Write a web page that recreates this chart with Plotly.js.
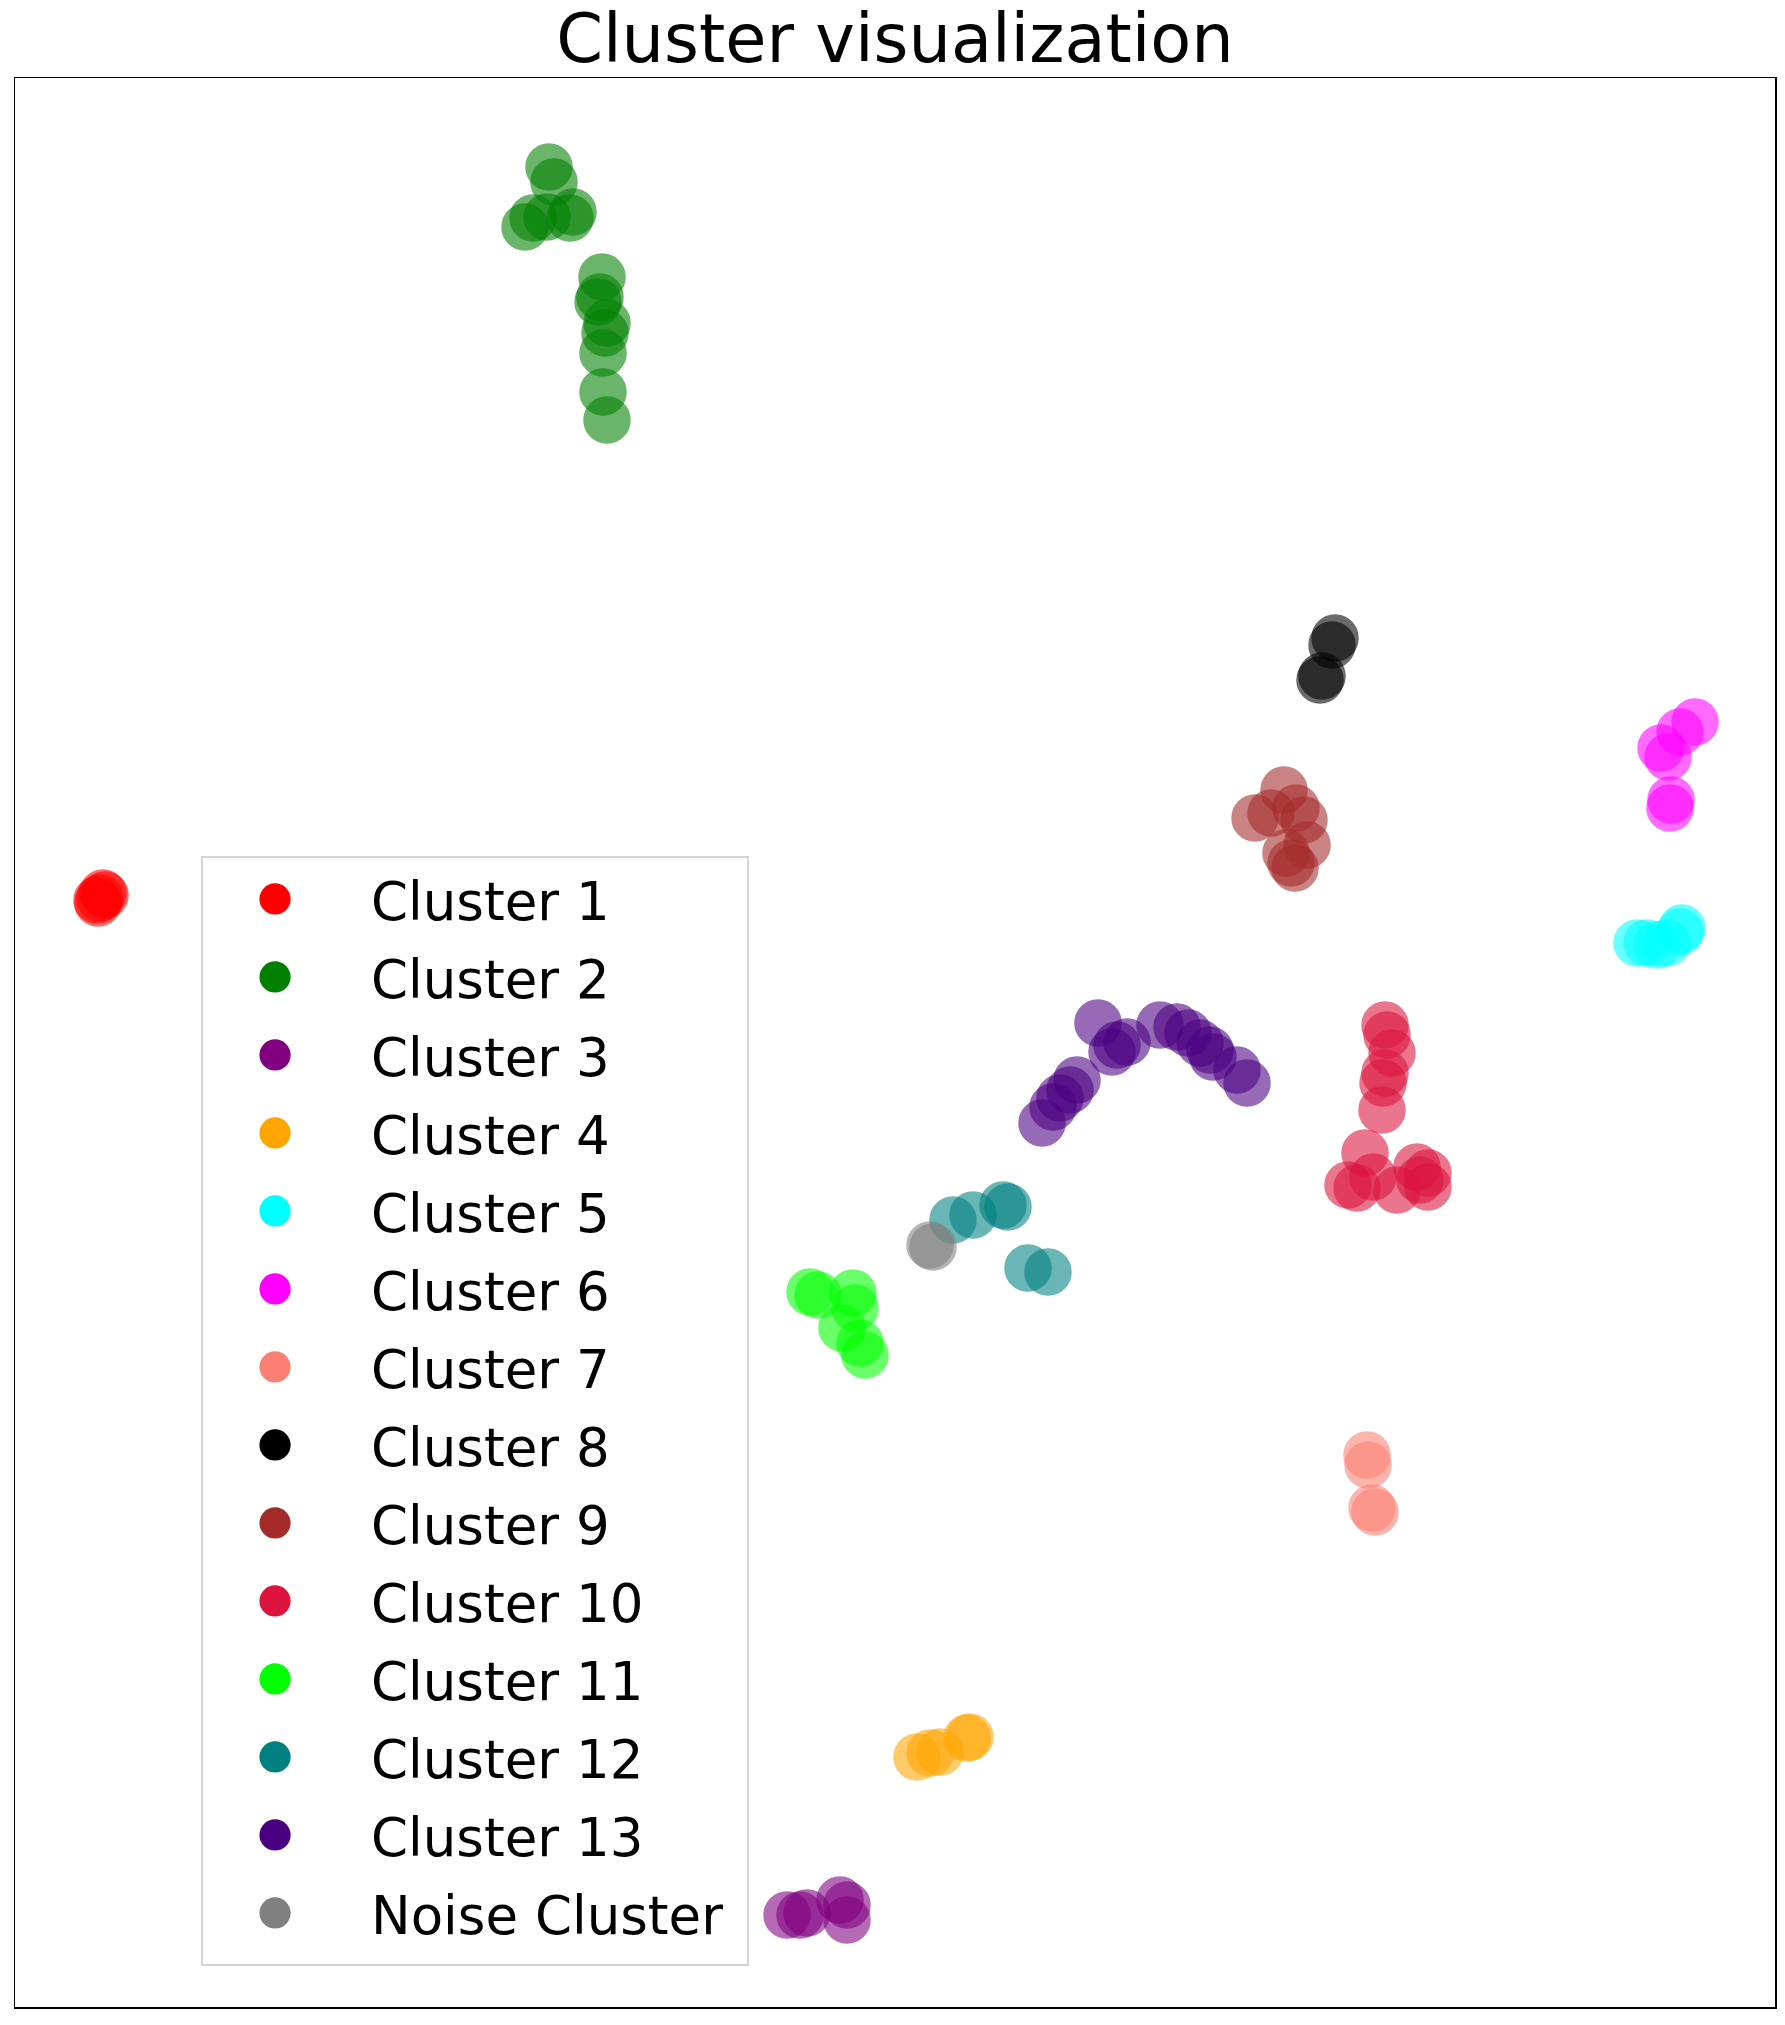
<!DOCTYPE html>
<html>
<head>
<meta charset="utf-8">
<script src="https://cdn.plot.ly/plotly-3.0.1.min.js"></script>
<style>
  html, body { margin: 0; padding: 0; background: #fff; }
</style>
</head>
<body>
<div id="chart" style="width:1785px;height:2025px;"></div>
<script>
// cluster points (embedding coordinates)
const c1x = [0.82, 0.85, 0.88, 0.83, 0.90];
const c1y = [11.07, 11.09, 11.14, 11.04, 11.12];

const c2x = [5.34, 5.39, 5.18, 5.10, 5.32, 5.58, 5.55, 5.87, 5.85, 5.83, 5.92, 5.90, 5.88, 5.88, 5.92];
const c2y = [18.40, 18.25, 17.89, 17.80, 17.90, 17.95, 17.89, 17.30, 17.10, 17.05, 16.84, 16.74, 16.54, 16.15, 15.87];

const c3x = [7.72, 7.85, 7.92, 8.25, 8.32, 8.32];
const c3y = [0.92, 0.92, 0.94, 1.07, 1.02, 0.87];

const c4x = [9.02, 9.15, 9.25, 9.52, 9.55];
const c4y = [2.50, 2.54, 2.55, 2.69, 2.70];

const c5x = [16.22, 16.32, 16.42, 16.52, 16.65, 16.67];
const c5y = [10.64, 10.64, 10.62, 10.64, 10.75, 10.79];

const c6x = [16.80, 16.65, 16.46, 16.53, 16.56, 16.55];
const c6y = [12.85, 12.75, 12.59, 12.50, 12.07, 11.99];

const c7x = [13.52, 13.53, 13.57, 13.60];
const c7y = [5.52, 5.42, 4.99, 4.95];

const c8x = [13.20, 13.17, 13.07, 13.05];
const c8y = [13.69, 13.62, 13.31, 13.27];

const c9x = [12.69, 12.40, 12.56, 12.81, 12.89, 12.92, 12.76, 12.80, 12.71];
const c9y = [12.17, 11.89, 11.94, 11.99, 11.87, 11.62, 11.44, 11.39, 11.54];

const c10x = [13.70, 13.72, 13.77, 13.70, 13.68, 13.67, 13.50, 13.33, 13.42, 13.58, 13.82, 14.02, 14.05, 14.13, 14.13];
const c10y = [9.82, 9.72, 9.54, 9.34, 9.24, 8.97, 8.54, 8.22, 8.19, 8.30, 8.17, 8.40, 8.27, 8.20, 8.34];

const c11x = [7.95, 8.03, 8.38, 8.40, 8.27, 8.45, 8.50];
const c11y = [7.15, 7.12, 7.14, 6.99, 6.79, 6.64, 6.52];

const c12x = [9.38, 9.58, 9.88, 9.93, 10.13, 10.33];
const c12y = [7.87, 7.92, 8.02, 8.00, 7.39, 7.35];

const c13x = [10.83, 11.02, 11.12, 10.97, 11.45, 11.62, 11.73, 11.85, 11.95, 11.98, 12.22, 12.32, 10.62, 10.55, 10.45, 10.38, 10.27];
const c13y = [9.84, 9.62, 9.65, 9.55, 9.82, 9.80, 9.74, 9.64, 9.57, 9.50, 9.37, 9.24, 9.27, 9.17, 9.09, 9.00, 8.84];

const noiseX = [9.15, 9.18];
const noiseY = [7.62, 7.60];

const names = ['Cluster 1', 'Cluster 2', 'Cluster 3', 'Cluster 4', 'Cluster 5', 'Cluster 6', 'Cluster 7',
               'Cluster 8', 'Cluster 9', 'Cluster 10', 'Cluster 11', 'Cluster 12', 'Cluster 13', 'Noise Cluster'];
const colors = ['red', 'green', 'purple', 'orange', 'cyan', 'magenta', 'salmon',
                'black', 'brown', 'crimson', 'lime', 'teal', 'indigo', 'grey'];
const xs = [c1x, c2x, c3x, c4x, c5x, c6x, c7x, c8x, c9x, c10x, c11x, c12x, c13x, noiseX];
const ys = [c1y, c2y, c3y, c4y, c5y, c6y, c7y, c8y, c9y, c10y, c11y, c12y, c13y, noiseY];

const traces = [];
names.forEach(function (name, i) {
    traces.push({
        x: xs[i],
        y: ys[i],
        name: name,
        legendgroup: name,
        showlegend: false,
        type: 'scatter',
        mode: 'markers',
        hoverinfo: 'skip',
        marker: {color: colors[i], size: 46, opacity: 0.58, line: {color: colors[i], width: 1.5}}
    });
});
// legend entries drawn solid, like the reference
names.forEach(function (name, i) {
    traces.push({
        x: [null],
        y: [null],
        name: name,
        legendgroup: name,
        type: 'scatter',
        mode: 'markers',
        marker: {color: colors[i], size: 16, opacity: 1}
    });
});

const layout = {
    width: 1785,
    height: 2025,
    paper_bgcolor: 'white',
    plot_bgcolor: 'white',
    font: {family: 'DejaVu Sans', color: 'black'},
    title: {
        text: 'Cluster visualization',
        font: {size: 67, family: 'DejaVu Sans', color: 'black'},
        x: 0.5, xref: 'paper', xanchor: 'center',
        y: 0.9923, yref: 'container', yanchor: 'top'
    },
    xaxis: {
        range: [0, 17.6],
        showgrid: false, zeroline: false, showticklabels: false, ticks: '',
        showline: true, mirror: true, linecolor: 'black', linewidth: 1.5
    },
    yaxis: {
        range: [0, 19.29],
        showgrid: false, zeroline: false, showticklabels: false, ticks: '',
        showline: true, mirror: true, linecolor: 'black', linewidth: 1.5
    },
    legend: {
        x: 0.1057, y: 0.5967, xanchor: 'left', yanchor: 'top',
        bgcolor: 'rgba(255,255,255,0.8)',
        bordercolor: '#d4d4d4', borderwidth: 2,
        font: {size: 53, family: 'DejaVu Sans', color: 'black'},
        itemwidth: 158,
        tracegroupgap: 6.1
    },
    margin: {t: 78, b: 18, l: 15, r: 10},
    hovermode: false
};

Plotly.newPlot('chart', traces, layout, {displayModeBar: false, staticPlot: true}).then(function (gd) {
    // legend symbols are capped at 16px by plotly; enlarge them to the reference size
    gd.querySelectorAll('.legend .legendpoints path.scatterpts').forEach(function (p) {
        p.setAttribute('transform', 'translate(72,0) scale(1.95)');
    });
    // a bit more padding round the legend box, as matplotlib does
    const bg = gd.querySelector('.legend rect.bg');
    if (bg) {
        bg.setAttribute('width', parseFloat(bg.getAttribute('width')) + 18);
        bg.setAttribute('height', parseFloat(bg.getAttribute('height')) + 10);
    }
});
</script>
</body>
</html>
